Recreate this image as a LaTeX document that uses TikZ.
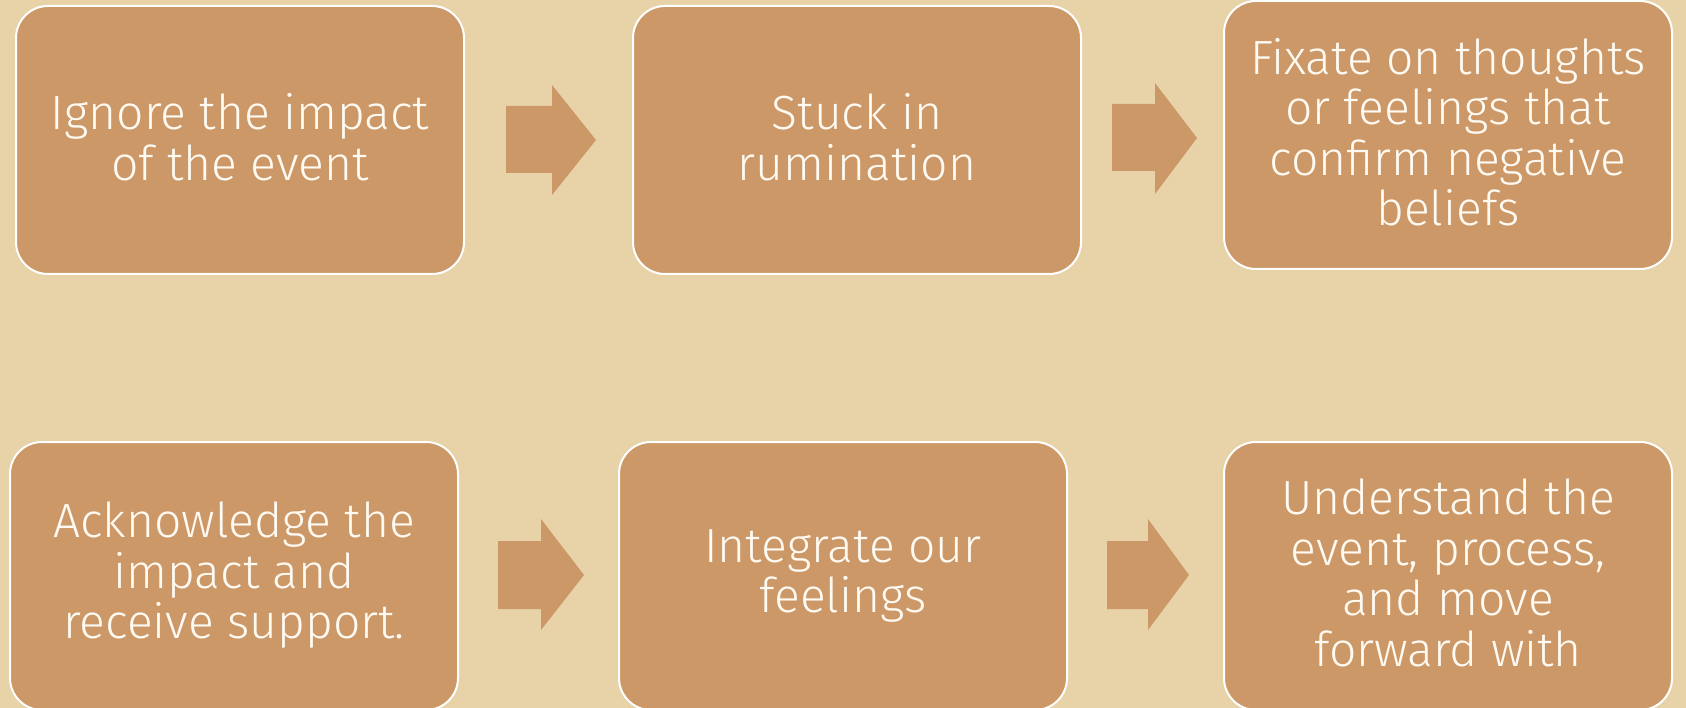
\documentclass[tikz,border=0pt]{standalone}
\usepackage{fontspec}
\setmainfont{Fira Sans Light}
\definecolor{bgc}{RGB}{232,211,169}
\definecolor{boxc}{RGB}{204,152,104}
\definecolor{txtc}{RGB}{255,250,242}
\begin{document}
\begin{tikzpicture}[x=1pt,y=-1pt,
  stepbox/.style={draw=white,line width=2pt,fill=boxc,rounded corners=32pt,
    minimum width=448pt,minimum height=268pt,text=txtc,inner sep=0pt},
  steptext/.style={align=center,text=txtc,font=\fontsize{48}{50.5}\selectfont,inner sep=0pt},
  blockarrow/.style={fill=boxc}]
\fill[bgc] (0,0) rectangle (1686,708);
\useasboundingbox (0,0) rectangle (1686,708);
\node[stepbox] (b1) at (240,140) {};
\node[stepbox] (b2) at (857,140) {};
\node[stepbox] (b3) at (1448,135) {};
\node[stepbox] (b4) at (234,576) {};
\node[stepbox] (b5) at (843,576) {};
\node[stepbox] (b6) at (1448,576) {};
\node[steptext] (t1) at ([yshift=3pt]b1.center) {Ignore the impact\\of the event};
\node[steptext] (t2) at ([yshift=3pt]b2.center) {Stuck in\\rumination};
\node[steptext] (t3) at ([yshift=3pt]b3.center) {Fixate on thoughts\\or feelings that\\confirm negative\\beliefs};
\node[steptext] (t4) at ([yshift=0.5pt]b4.center) {Acknowledge the\\impact and\\receive support.};
\node[steptext] (t5) at ([yshift=0pt]b5.center) {Integrate our\\feelings};
\node[steptext] (t6) at ([yshift=3pt]b6.center) {Understand the\\event, process,\\and move\\forward with};
% block arrows
\fill[blockarrow] (506,106) -- (552,106) -- (552,85) -- (596,140) -- (552,195) -- (552,173) -- (506,173) -- cycle;
\fill[blockarrow] (1112,104) -- (1155,104) -- (1155,83) -- (1197,138) -- (1155,194) -- (1155,171) -- (1112,171) -- cycle;
\fill[blockarrow] (498,541) -- (541,541) -- (541,519) -- (584,575) -- (541,630) -- (541,609) -- (498,609) -- cycle;
\fill[blockarrow] (1107,541) -- (1148,541) -- (1148,519) -- (1189,575) -- (1148,630) -- (1148,609) -- (1107,609) -- cycle;
\end{tikzpicture}
\end{document}
